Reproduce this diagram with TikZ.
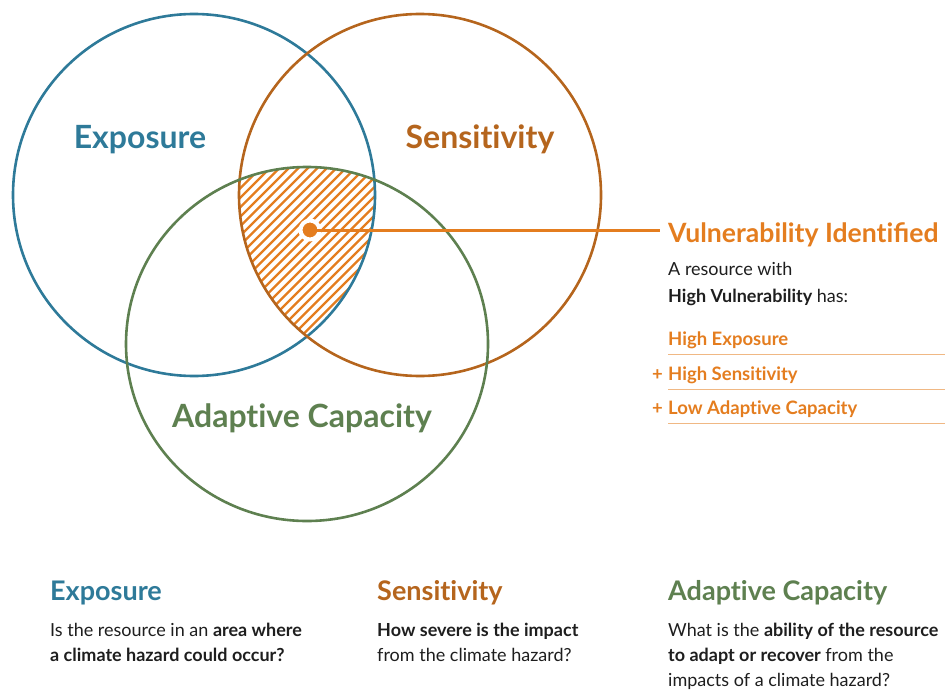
\documentclass[tikz,border=0pt]{standalone}
\usepackage{fontspec}
\setmainfont{Lato}[Ligatures=NoCommon]
\usetikzlibrary{calc}
\definecolor{expblue}{HTML}{2E7A99}
\definecolor{sensbrown}{HTML}{B5651D}
\definecolor{adgreen}{HTML}{5E8050}
\definecolor{vorange}{HTML}{E47D1F}
\definecolor{txtgray}{HTML}{1E1E1E}
\begin{document}
\begin{tikzpicture}[x=1pt, y=-1pt,
  ring/.style={line width=2.6pt},
  hatch/.style={vorange, line width=2.2pt},
  biglabel/.style={font=\fontsize{32}{38}\selectfont\bfseries, anchor=base, inner sep=0},
  head/.style={font=\fontsize{27}{32}\selectfont\bfseries, anchor=base west, inner sep=0},
  body/.style={font=\fontsize{18}{25}\selectfont, text=txtgray, anchor=base west, inner sep=0, align=left},
  item/.style={font=\fontsize{18.5}{22}\selectfont\bfseries, text=vorange, anchor=base west, inner sep=0},
  rule/.style={vorange!55, line width=1pt},
  dotnode/.style={circle, fill=vorange, draw=white, line width=4pt, inner sep=0, minimum size=19pt},
  vline/.style={vorange, line width=3pt}]

  \useasboundingbox (0,0) rectangle (947,690);

  \coordinate (expC) at (194,195);
  \coordinate (sensC) at (420,195);
  \coordinate (adC) at (307,344);

  % shaded overlap of the three sets
  \begin{scope}
    \clip (expC) circle[radius=181pt];
    \clip (sensC) circle[radius=181pt];
    \clip (adC) ellipse[x radius=181pt, y radius=177pt];
    \foreach \c in {400,409.5,...,740}
      \draw[hatch] (\c-100,100) -- (\c-400,400);
  \end{scope}

  \draw[ring, expblue] (expC) circle[radius=181pt];
  \draw[ring, sensbrown] (sensC) circle[radius=181pt];
  \draw[ring, adgreen] (adC) ellipse[x radius=181pt, y radius=177pt];

  \node[biglabel, text=expblue] (expLbl) at (140,149) {Exposure};
  \node[biglabel, text=sensbrown] (sensLbl) at (480,148) {Sensitivity};
  \node[biglabel, text=adgreen] (adLbl) at (302,427) {Adaptive Capacity};

  \node[dotnode] (dot) at (310,230) {};
  \coordinate (lineEnd) at (660,230);
  \draw[vline] (dot.center) -- (lineEnd);

  % right panel
  \node[head, font=\fontsize{26.6}{32}\selectfont\bfseries, text=vorange] (vulTitle) at (668,242) {Vulnerability Identiﬁed};
  \node[body, font=\fontsize{18}{27}\selectfont] (resText) at (668,302) {A resource with\\\textbf{High Vulnerability} has:};

  \node[item] (hiExp) at (668,345) {High Exposure};
  \node[item] (hiSens) at (668,380) {High Sensitivity};
  \node[item] (loAd) at (668,414) {Low Adaptive Capacity};
  \node[item, anchor=base east] (plusA) at (663,380) {+};
  \node[item, anchor=base east] (plusB) at (663,414) {+};
  \draw[rule] (668,354) -- (945,354);
  \draw[rule] (668,389) -- (945,389);
  \draw[rule] (668,423) -- (945,423);

  % legend below
  \node[head, text=expblue] (expHead) at (50,600) {Exposure};
  \node[body] (expText) at (50,661) {Is the resource in an \textbf{area where}\\\textbf{a climate hazard could occur?}};
  \node[head, text=sensbrown] (sensHead) at (377,600) {Sensitivity};
  \node[body] (sensText) at (377,661) {\textbf{How severe is the impact}\\from the climate hazard?};
  \node[head, text=adgreen] (adHead) at (668,600) {Adaptive Capacity};
  \node[body] (adText) at (668,686) {What is the \textbf{ability of the resource}\\\textbf{to adapt or recover} from the\\impacts of a climate hazard?};
\end{tikzpicture}
\end{document}
